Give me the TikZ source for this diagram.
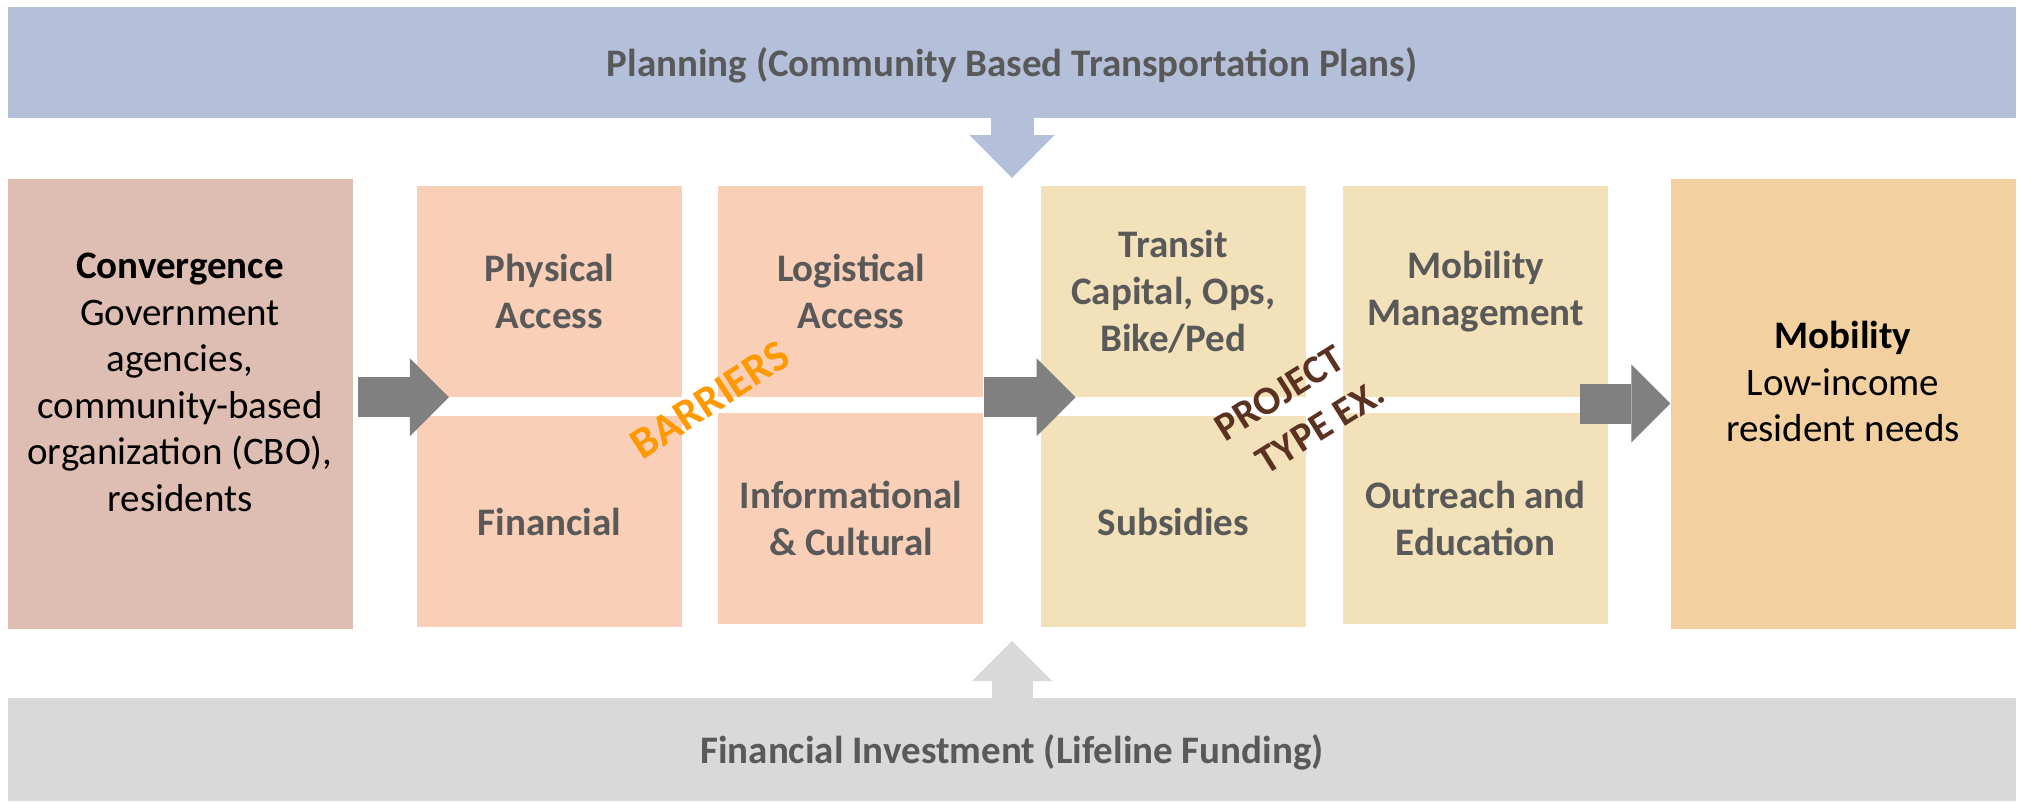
\documentclass[tikz,border=0pt]{standalone}
\usepackage{fontspec}
\setmainfont{Carlito}
\usetikzlibrary{arrows.meta,positioning}
\tikzset{
    node distance=19pt, % gap between a box and the one below it
    }
\definecolor{planblue}{HTML}{B4C0D9}
\definecolor{fundgray}{HTML}{D9D9D9}
\definecolor{arrowgray}{HTML}{808080}
\definecolor{labelgray}{HTML}{595959}
\definecolor{convfill}{HTML}{DEBEB2}
\definecolor{barrierfill}{HTML}{F9CFB7}
\definecolor{projfill}{HTML}{F3E1BA}
\definecolor{mobfill}{HTML}{F2D0A0}
\definecolor{barrierorange}{HTML}{FF9900}
\definecolor{projbrown}{HTML}{5B3121}

\begin{document}
\begin{tikzpicture}[x=1pt,y=-1pt,
band/.style={rectangle, minimum width=2008pt, inner sep=0pt, text height=27pt, text depth=0pt, text=labelgray, font=\bfseries\fontsize{39}{47}\selectfont},
bigbox/.style={rectangle, minimum width=345pt, minimum height=450pt, inner sep=0pt},
box/.style={rectangle, minimum width=265pt, minimum height=211pt, inner sep=0pt, align=center, text=labelgray, font=\bfseries\fontsize{39}{47}\selectfont},
bigtext/.style={align=center, font=\fontsize{39}{46.5}\selectfont},
slanted/.style={rotate=32, font=\bfseries\fontsize{40}{50}\selectfont},
flow/.style={line width=40pt, arrowgray, -{Triangle[length=39pt,width=78pt,line width=0pt]}},
]
\useasboundingbox (0,0) rectangle (2024,801);

% top and bottom bands
\node[band, fill=planblue, minimum height=111pt] (plan) at (1012,62.5) {Planning (Community Based Transportation Plans)};
\node[band, fill=fundgray, minimum height=103pt] (fund) at (1012,749.5) {Financial Investment (Lifeline Funding)};

% left and right boxes
\node[bigbox, fill=convfill] (conv) at (180,403.5) {};
\node[bigtext] (convtext) at ([yshift=21]conv.center) {\textbf{Convergence}\\Government\\agencies,\\community-based\\organization (CBO),\\residents};
\node[bigbox, fill=mobfill] (mob) at (1843,403.5) {};
\node[bigtext] (mobtext) at ([yshift=22]mob.center) {\textbf{Mobility}\\Low-income\\resident needs};

% barriers
\node[box, fill=barrierfill] (phys) at (549.5,291.5) {Physical\\Access};
\node[box, fill=barrierfill] (fin) [below=of phys] {Financial};
\node[box, fill=barrierfill] (logi) [right=36pt of phys] {Logistical\\Access};
\node[box, fill=barrierfill] (info) [below=16pt of logi] {Informational\\\& Cultural};

% project types
\node[box, fill=projfill] (transit) [right=57pt of logi] {Transit\\Capital, Ops,\\Bike/Ped};
\node[box, fill=projfill] (subs) [below=of transit] {Subsidies};
\node[box, fill=projfill] (mgmt) [right=37pt of transit] {Mobility\\Management};
\node[box, fill=projfill] (outreach) [below=16pt of mgmt] {Outreach and\\Education};

% arrows
\coordinate (plantip) at (1012,178);
\coordinate (fundtip) at (1012,641);
\draw[flow, planblue, line width=43pt, -{Triangle[length=43pt,width=85pt,line width=0pt]}] (plan.south) -- (plantip);
\draw[flow, fundgray, line width=41pt, -{Triangle[length=40pt,width=80pt,line width=0pt]}] (fund.north) -- (fundtip);
\draw[flow] ([xshift=5pt]conv.east |- phys.south) -- ([xshift=32pt]phys.south west);
\draw[flow] (logi.south east) -- ([xshift=35pt]transit.south west);
\draw[flow] ([xshift=-90pt]mob.west) -- (mob.west);

% slanted labels
\node[slanted, rotate=1, font=\bfseries\fontsize{44}{50}\selectfont, text=barrierorange] (barriers) at (710,400) {BARRIERS};
\node[slanted, align=left, text=projbrown] (ptype) at (1300,410) {PROJECT\\\hspace*{17pt}TYPE EX.};
\end{tikzpicture}
\end{document}
